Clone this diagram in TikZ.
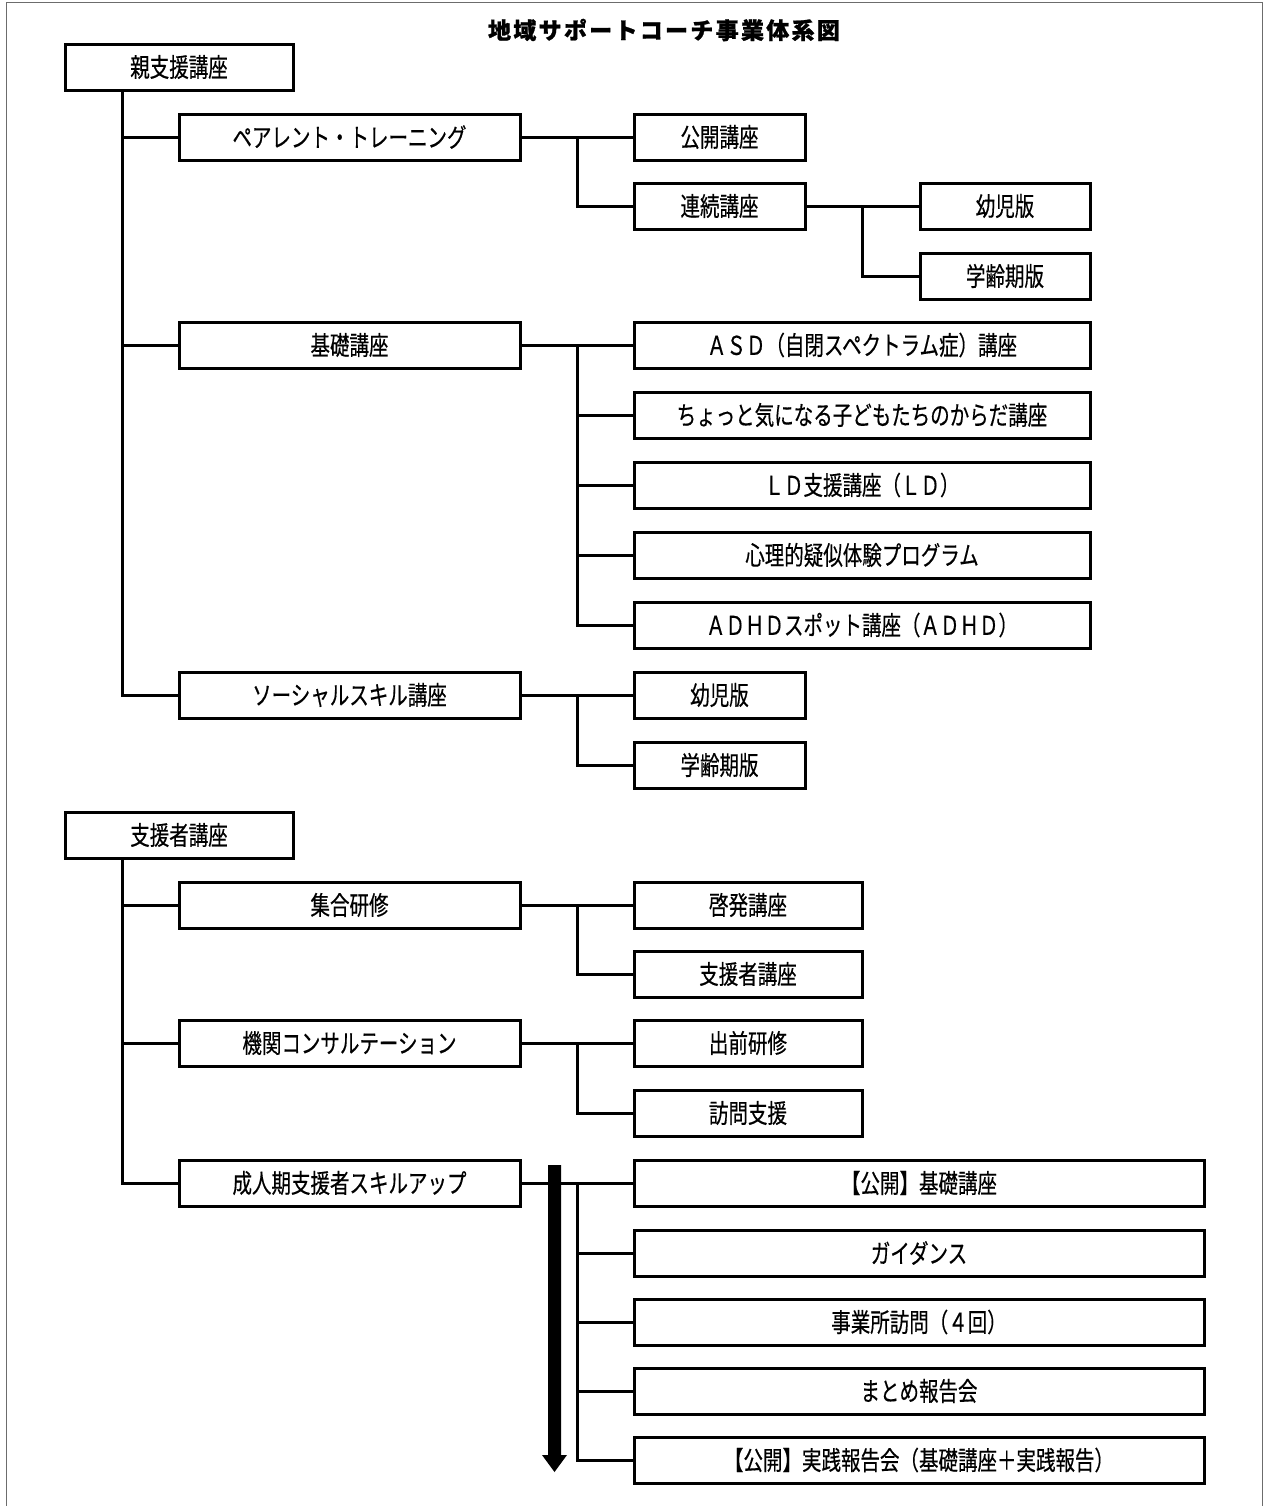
\documentclass[tikz,border=0pt]{standalone}
\usepackage{fontspec}
\newfontfamily\jp[FakeStretch=0.75,FakeBold=0.4]{Noto Sans CJK JP}
\newfontfamily\jptitle[LetterSpace=10,FakeBold=1]{Noto Sans CJK JP}
\newcommand\bx[6]{\node[bx,minimum width={(#4-#2)*0.5pt},minimum height={(#5-#3)*0.5pt}] (#1) at ({(#2+#4)/2},{(#3+#5)/2}) {#6};}
\begin{document}
\begin{tikzpicture}[x=0.5pt,y=-0.5pt,
  bx/.style={draw=black,line width=1.5pt,fill=white,inner sep=0pt,outer sep=0pt,
    font=\jp\fontsize{13pt}{15pt}\selectfont},
  ln/.style={draw=black,line width=1.5pt},
  ttl/.style={font=\jptitle\bfseries\fontsize{11.5pt}{13pt}\selectfont,inner sep=0pt}]
\useasboundingbox (0,0) rectangle (1266,1506);
\draw[gray!85!black,line width=0.75pt] (6.5,1506) -- (6.5,2.5) -- (1262.5,2.5) -- (1262.5,1506);
\node[ttl] (title) at (664,30) {地域サポートコーチ事業体系図};
% --- parent support
\bx{root1}{65}{44}{293}{90}{親支援講座}
\bx{pt}{179}{114}{520}{160}{ペアレント・トレーニング}
\bx{kokai}{634}{114}{805}{160}{公開講座}
\bx{renzoku}{634}{183}{805}{229}{連続講座}
\bx{yoji1}{920}{183}{1090}{229}{幼児版}
\bx{gakurei1}{920}{253}{1090}{299}{学齢期版}
\bx{kiso}{179}{322}{520}{368}{基礎講座}
\bx{asd}{634}{322}{1090}{368}{ＡＳＤ（自閉スペクトラム症）講座}
\bx{chotto}{634}{392}{1090}{438}{ちょっと気になる子どもたちのからだ講座}
\bx{ld}{634}{462}{1090}{508}{ＬＤ支援講座（ＬＤ）}
\bx{shinri}{634}{532}{1090}{578}{心理的疑似体験プログラム}
\bx{adhd}{634}{602}{1090}{648}{ＡＤＨＤスポット講座（ＡＤＨＤ）}
\bx{social}{179}{672}{520}{718}{ソーシャルスキル講座}
\bx{yoji2}{634}{672}{805}{718}{幼児版}
\bx{gakurei2}{634}{742}{805}{788}{学齢期版}
% --- supporter
\bx{root2}{65}{812}{293}{858}{支援者講座}
\bx{shugo}{179}{882}{520}{928}{集合研修}
\bx{keihatsu}{634}{882}{862}{928}{啓発講座}
\bx{shiensha}{634}{951}{862}{997}{支援者講座}
\bx{kikan}{179}{1020}{520}{1066}{機関コンサルテーション}
\bx{demae}{634}{1020}{862}{1066}{出前研修}
\bx{homon}{634}{1090}{862}{1136}{訪問支援}
\bx{seijin}{179}{1160}{520}{1206}{成人期支援者スキルアップ}
\bx{kkiso}{634}{1160}{1204}{1206}{【公開】基礎講座}
\bx{guide}{634}{1230}{1204}{1276}{ガイダンス}
\bx{jigyo}{634}{1299}{1204}{1345}{事業所訪問（４回）}
\bx{matome}{634}{1368}{1204}{1414}{まとめ報告会}
\bx{jissen}{634}{1437}{1204}{1483}{【公開】実践報告会（基礎講座＋実践報告）}
% --- trunks
\coordinate (t1) at ([xshift=28.5pt]root1.south west);
\draw[ln] (t1) |- (social.west);
\draw[ln] (t1 |- pt.west) -- (pt.west);
\draw[ln] (t1 |- kiso.west) -- (kiso.west);
\coordinate (t2) at ([xshift=28.5pt]root2.south west);
\draw[ln] (t2) |- (seijin.west);
\draw[ln] (t2 |- shugo.west) -- (shugo.west);
\draw[ln] (t2 |- kikan.west) -- (kikan.west);
% --- branches
\coordinate (b1) at ([xshift=28.5pt]pt.east);
\draw[ln] (pt.east) -- (kokai.west);
\draw[ln] (b1) |- (renzoku.west);
\coordinate (b2) at ([xshift=28.5pt]renzoku.east);
\draw[ln] (renzoku.east) -- (yoji1.west);
\draw[ln] (b2) |- (gakurei1.west);
\coordinate (b3) at ([xshift=28.5pt]kiso.east);
\draw[ln] (kiso.east) -- (asd.west);
\draw[ln] (b3) |- (adhd.west);
\draw[ln] (b3 |- chotto.west) -- (chotto.west);
\draw[ln] (b3 |- ld.west) -- (ld.west);
\draw[ln] (b3 |- shinri.west) -- (shinri.west);
\coordinate (b4) at ([xshift=28.5pt]social.east);
\draw[ln] (social.east) -- (yoji2.west);
\draw[ln] (b4) |- (gakurei2.west);
\coordinate (b5) at ([xshift=28.5pt]shugo.east);
\draw[ln] (shugo.east) -- (keihatsu.west);
\draw[ln] (b5) |- (shiensha.west);
\coordinate (b6) at ([xshift=28.5pt]kikan.east);
\draw[ln] (kikan.east) -- (demae.west);
\draw[ln] (b6) |- (homon.west);
\coordinate (b7) at ([xshift=28.5pt]seijin.east);
\draw[ln] (seijin.east) -- (kkiso.west);
\draw[ln] (b7) |- (jissen.west);
\draw[ln] (b7 |- guide.west) -- (guide.west);
\draw[ln] (b7 |- jigyo.west) -- (jigyo.west);
\draw[ln] (b7 |- matome.west) -- (matome.west);
% --- time arrow
\fill[black] (548,1165) -- (561,1165) -- (561,1455) -- (567,1455) -- (554.5,1472) -- (542,1455) -- (548,1455) -- cycle;
\end{tikzpicture}
\end{document}
